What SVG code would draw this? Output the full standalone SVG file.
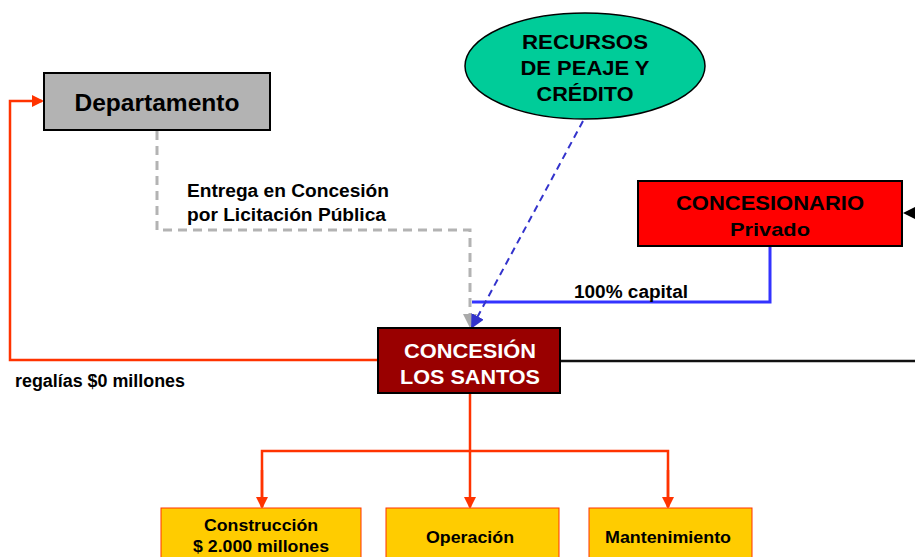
<svg xmlns="http://www.w3.org/2000/svg" width="915" height="557" viewBox="0 0 915 557">
<defs>
<style>
text{font-family:"Liberation Sans",Arial,sans-serif;font-weight:bold;text-anchor:middle}
.lbl{font-size:17.5px;text-anchor:start}
.sub{font-size:16.5px}
</style>
<marker id="aOr" markerWidth="12" markerHeight="12" refX="10" refY="6" orient="auto" markerUnits="userSpaceOnUse"><path d="M0,0 L12,6 L0,12 Z" fill="#ff3300"/></marker>
<marker id="aGr" markerWidth="14" markerHeight="14" refX="12" refY="7" orient="auto" markerUnits="userSpaceOnUse"><path d="M0,0 L14,7 L0,14 Z" fill="#aaaaaa"/></marker>
<marker id="aBl" markerWidth="14" markerHeight="14" refX="12" refY="7" orient="auto" markerUnits="userSpaceOnUse"><path d="M0,0 L14,7 L0,14 Z" fill="#3333cc"/></marker>
</defs>
<rect width="915" height="557" fill="#fff"/>
<g id="connectors" fill="none">
<polyline points="378,360 10,360 10,101 42,101" stroke="#ff3300" stroke-width="2.5" marker-end="url(#aOr)"/>
<polyline points="157,131 157,230 470,230 470,326" stroke="#b3b3b3" stroke-width="3" stroke-dasharray="9,6" marker-end="url(#aGr)"/>
<polyline points="770,247 770,302 472,302" stroke="#3333ff" stroke-width="3"/>
<line x1="583" y1="121" x2="472" y2="327" stroke="#3333cc" stroke-width="2" stroke-dasharray="7,5" marker-end="url(#aBl)"/>
<line x1="560" y1="361" x2="915" y2="361" stroke="#111" stroke-width="2.5"/>
<path d="M903,213 L915,207 L915,219 Z" fill="#000"/>
<line x1="470" y1="393" x2="470" y2="507" stroke="#ff3300" stroke-width="2.5" marker-end="url(#aOr)"/>
<polyline points="262,507 262,451 668,451 668,507" stroke="#ff3300" stroke-width="2.5"/>
<line x1="262" y1="470" x2="262" y2="507" stroke="#ff3300" stroke-width="2.5" marker-end="url(#aOr)"/>
<line x1="668" y1="470" x2="668" y2="507" stroke="#ff3300" stroke-width="2.5" marker-end="url(#aOr)"/>
</g>
<g id="labels">
<text class="lbl" x="187" y="197" textLength="202" lengthAdjust="spacingAndGlyphs">Entrega en Concesión</text>
<text class="lbl" x="187" y="221" textLength="199" lengthAdjust="spacingAndGlyphs">por Licitación Pública</text>
<text class="lbl" x="574" y="298" textLength="114" lengthAdjust="spacingAndGlyphs">100% capital</text>
<text class="lbl" x="15" y="387" textLength="170" lengthAdjust="spacingAndGlyphs">regalías $0 millones</text>
</g>
<g id="departamento">
<rect x="44" y="73" width="226" height="57" fill="#b3b3b3" stroke="#000" stroke-width="2"/>
<text x="157" y="111" font-size="23" textLength="165" lengthAdjust="spacingAndGlyphs">Departamento</text>
</g>
<g id="recursos">
<ellipse cx="585" cy="66" rx="120" ry="53" fill="#00cc99" stroke="#000" stroke-width="1.5"/>
<text x="585" y="49" font-size="21" textLength="126" lengthAdjust="spacingAndGlyphs">RECURSOS</text>
<text x="585" y="75" font-size="21" textLength="129" lengthAdjust="spacingAndGlyphs">DE PEAJE Y</text>
<text x="585" y="101" font-size="21" textLength="97" lengthAdjust="spacingAndGlyphs">CRÉDITO</text>
</g>
<g id="concesionario">
<rect x="638" y="181" width="264" height="65" fill="#ff0000" stroke="#000" stroke-width="2"/>
<text x="770" y="210" font-size="21" textLength="188" lengthAdjust="spacingAndGlyphs">CONCESIONARIO</text>
<text x="770" y="236" font-size="19" textLength="80" lengthAdjust="spacingAndGlyphs">Privado</text>
</g>
<g id="concesion">
<rect x="378" y="328" width="182" height="65" fill="#990000" stroke="#000" stroke-width="2"/>
<text x="470" y="358" font-size="21" fill="#fff" textLength="132" lengthAdjust="spacingAndGlyphs">CONCESIÓN</text>
<text x="470" y="384" font-size="21" fill="#fff" textLength="140" lengthAdjust="spacingAndGlyphs">LOS SANTOS</text>
</g>
<g id="construccion">
<rect x="161" y="508" width="200" height="60" fill="#ffcc00" stroke="#ff3300" stroke-width="1"/>
<text class="sub" x="261" y="531" textLength="114" lengthAdjust="spacingAndGlyphs">Construcción</text>
<text class="sub" x="261" y="552" textLength="136" lengthAdjust="spacingAndGlyphs">$ 2.000 millones</text>
</g>
<g id="operacion">
<rect x="386" y="508" width="173" height="60" fill="#ffcc00" stroke="#ff3300" stroke-width="1"/>
<text class="sub" x="470" y="543" textLength="88" lengthAdjust="spacingAndGlyphs">Operación</text>
</g>
<g id="mantenimiento">
<rect x="589" y="508" width="163" height="60" fill="#ffcc00" stroke="#ff3300" stroke-width="1"/>
<text class="sub" x="668" y="543" textLength="126" lengthAdjust="spacingAndGlyphs">Mantenimiento</text>
</g>
</svg>
